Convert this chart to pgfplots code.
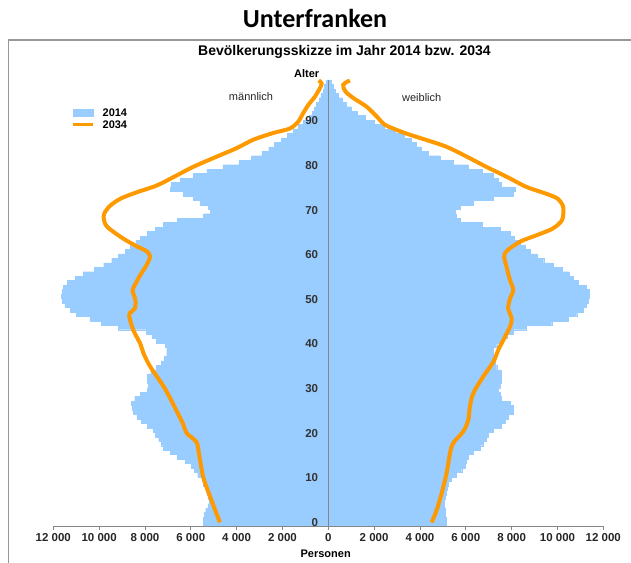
\documentclass[border=0pt]{standalone}
\usepackage{fontspec}
\setmainfont{Liberation Sans}
\newfontfamily\titlefont{Carlito}
\usepackage{pgfplots}
\usepackage{pgfplotstable}
\pgfplotsset{compat=1.18}
\definecolor{barblue}{HTML}{99CCFF}
\definecolor{lineorange}{HTML}{FF9900}
\definecolor{axgray}{HTML}{868686}

% 2014: age (bar centre), male (negative, thousands), female (thousands)
\pgfplotstableread{
age m f
0.5 -5.45 5.13
1.5 -5.45 5.13
2.5 -5.40 5.10
3.5 -5.35 5.09
4.5 -5.25 5.05
5.5 -5.20 5.07
6.5 -5.25 5.09
7.5 -5.30 5.16
8.5 -5.35 5.20
9.5 -5.45 5.24
10.5 -5.50 5.38
11.5 -5.70 5.60
12.5 -5.85 5.82
13.5 -6.00 5.96
14.5 -6.25 6.03
15.5 -6.60 6.10
16.5 -6.90 6.33
17.5 -7.20 6.62
18.5 -7.30 6.76
19.5 -7.40 6.90
20.5 -7.55 6.98
21.5 -7.65 7.20
22.5 -7.90 7.56
23.5 -8.15 7.70
24.5 -8.35 7.85
25.5 -8.50 8.07
26.5 -8.55 8.07
27.5 -8.60 7.93
28.5 -8.45 7.56
29.5 -8.20 7.50
30.5 -7.90 7.42
31.5 -7.85 7.50
32.5 -7.90 7.56
33.5 -7.90 7.56
34.5 -7.75 7.56
35.5 -7.50 7.35
36.5 -7.30 7.27
37.5 -7.15 7.27
38.5 -7.05 7.20
39.5 -7.05 7.20
40.5 -7.10 7.35
41.5 -7.50 7.56
42.5 -7.70 7.80
43.5 -7.95 8.07
44.5 -9.15 8.65
45.5 -9.90 9.75
46.5 -10.40 10.47
47.5 -11.00 10.84
48.5 -11.25 11.13
49.5 -11.50 11.27
50.5 -11.60 11.35
51.5 -11.65 11.40
52.5 -11.60 11.40
53.5 -11.55 11.27
54.5 -11.40 10.90
55.5 -11.05 10.70
56.5 -10.70 10.50
57.5 -10.20 10.20
58.5 -9.80 9.80
59.5 -9.45 9.40
60.5 -9.15 9.10
61.5 -8.85 8.80
62.5 -8.65 8.60
63.5 -8.40 8.36
64.5 -8.20 8.10
65.5 -7.90 7.93
66.5 -7.55 7.50
67.5 -7.20 6.70
68.5 -6.60 5.75
69.5 -5.45 5.60
70.5 -5.15 5.53
71.5 -5.25 5.75
72.5 -5.60 6.33
73.5 -5.90 7.20
74.5 -6.35 8.07
75.5 -6.90 8.15
76.5 -6.85 7.56
77.5 -6.45 7.40
78.5 -5.90 7.20
79.5 -5.30 6.70
80.5 -4.60 6.10
81.5 -3.90 5.45
82.5 -3.35 4.87
83.5 -2.90 4.36
84.5 -2.60 4.07
85.5 -2.35 3.85
86.5 -2.05 3.60
87.5 -1.80 3.30
88.5 -1.55 2.90
89.5 -1.30 2.45
90.5 -1.10 2.00
91.5 -0.85 1.60
92.5 -0.69 1.25
93.5 -0.60 1.00
94.5 -0.51 0.80
95.5 -0.40 0.62
96.5 -0.32 0.45
97.5 -0.23 0.30
98.5 -0.17 0.20
99.5 -0.11 0.12
}\barsdata

% 2034 male (negative, thousands)
\pgfplotstableread{
age v
0.8 -4.73
5.8 -5.10
10.8 -5.45
15.8 -5.63
18.8 -5.75
20.8 -6.18
22.8 -6.33
25.8 -6.62
30.8 -7.13
35.8 -7.78
38.8 -8.07
40.8 -8.20
43.8 -8.50
46.8 -8.68
47.8 -8.65
48.8 -8.44
50.8 -8.42
52.8 -8.54
54.8 -8.36
56.3 -8.20
58.5 -7.93
60.4 -7.78
61.6 -7.93
62.7 -8.36
64.6 -9.00
67.2 -9.67
69.5 -9.80
71.4 -9.60
73.3 -9.10
74.8 -8.36
76.3 -7.50
78.2 -6.76
80.5 -5.90
82.8 -4.87
84.7 -4.00
86.6 -3.27
88.1 -2.40
89.1 -1.68
90.6 -1.32
92.5 -1.10
94.4 -0.87
96.2 -0.59
98.1 -0.37
99.2 -0.29
99.9 -0.42
}\maledata

% 2034 female (thousands)
\pgfplotstableread{
age v
0.8 4.51
3.6 4.73
7.4 4.95
11.8 5.16
16.3 5.31
18.6 5.45
21.2 5.89
23.8 6.11
26.8 6.18
29.8 6.33
33.5 6.76
36.8 7.20
39.5 7.42
41.7 7.64
44.7 7.93
46.5 8.00
48.8 7.85
51.0 7.93
52.9 8.07
55.1 7.93
58.1 7.78
61.1 7.70
63.7 8.36
65.2 9.10
66.7 9.80
68.6 10.20
71.5 10.25
73.4 10.00
74.5 9.50
76.0 8.65
78.3 7.78
80.5 6.90
82.8 6.04
85.0 5.16
86.5 4.30
87.7 3.56
88.8 2.98
90.0 2.45
91.6 2.15
94.0 1.67
95.9 1.10
97.4 0.75
98.9 0.65
99.9 0.94
}\femaledata

\begin{document}
\begin{tikzpicture}[x=1pt,y=1pt]
\useasboundingbox (0,0) rectangle (631,562);
\draw[axgray!85, line width=1.5pt] (8.3,-2) -- (8.3,522) -- (633,522);
\node[font=\titlefont\bfseries\fontsize{26}{30}\selectfont] at (315,544) {Unterfranken};
\node[font=\bfseries\fontsize{14}{16}\selectfont] at (344.5,510) {Bevölkerungsskizze im Jahr 2014 bzw. 2034};
\node[font=\bfseries\fontsize{11}{13}\selectfont] at (306.7,488) {Alter};
\node[font=\fontsize{11}{13}\selectfont, text=black!85] at (251,465.3) {männlich};
\node[font=\fontsize{11}{13}\selectfont, text=black!85] at (421.7,464.7) {weiblich};
\node[font=\bfseries\fontsize{11}{13}\selectfont] at (325.7,8.3) {Personen};
\begin{axis}[
  at={(53.3pt,36pt)}, anchor=south west,
  scale only axis, width=550pt, height=446.1pt,
  xmin=-12, xmax=12, ymin=0, ymax=100,
  axis on top,
  axis x line*=bottom, axis y line*=center,
  axis line style={axgray, line width=0.8pt},
  tick align=outside,
  major tick length=4pt,
  xtick={-12,-10,-8,-6,-4,-2,0,2,4,6,8,10,12},
  xticklabels={12 000,10 000,8 000,6 000,4 000,2 000,0,2 000,4 000,6 000,8 000,10 000,12 000},
  ytick={0.8,10.8,20.8,30.8,40.8,50.8,60.8,70.8,80.8,90.8},
  yticklabels={0,10,20,30,40,50,60,70,80,90},
  x tick style={axgray, line width=0.8pt},
  ytick style={draw=none},
  xticklabel style={font=\bfseries\fontsize{11.5}{13}\selectfont, text=black!85},
  yticklabel style={font=\bfseries\fontsize{11.5}{13}\selectfont, text=black!80, xshift=-2.7pt},
  legend style={at={(axis cs:-11.2,91.35)}, anchor=west, draw=none, fill=none,
    inner sep=0pt, row sep=1.9pt,
    nodes={inner sep=1pt, text height=8pt, text depth=0pt},
    font=\bfseries\fontsize{11}{13}\selectfont,
    /tikz/every odd column/.append style={column sep=6.5pt}},
  legend cell align=left,
]
\addplot[xbar, bar width=1, bar shift=0pt, fill=barblue, draw=barblue, line width=0.3pt,
  legend image code/.code={\fill[barblue] (0pt,-3.2pt) rectangle (20pt,3.2pt);}]
  table[x=m, y=age] {\barsdata};
\addlegendentry{2014}
\addplot[xbar, bar width=1, bar shift=0pt, fill=barblue, draw=barblue, line width=0.3pt, forget plot]
  table[x=f, y=age] {\barsdata};
\addplot[lineorange, line width=4pt, smooth, tension=0.5, no marks,
  legend image code/.code={\draw[lineorange, line width=3.3pt] (0pt,0pt) -- (20pt,0pt);}]
  table[x=v, y=age] {\maledata};
\addlegendentry{2034}
\addplot[lineorange, line width=4pt, smooth, tension=0.5, no marks, forget plot]
  table[x=v, y=age] {\femaledata};
\end{axis}
\end{tikzpicture}
\end{document}
